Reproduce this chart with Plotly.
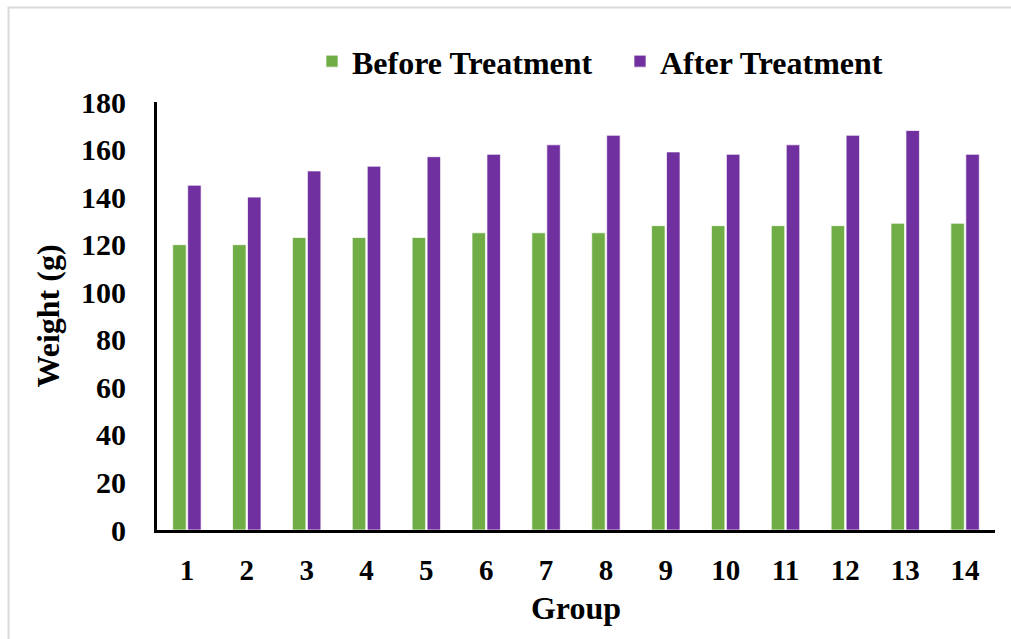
import plotly.graph_objects as go

# Group labels and body weights (g) before / after treatment
groups = [str(i) for i in range(1, 15)]
before_treatment = [120, 120, 123, 123, 123, 125, 125, 125, 128, 128, 128, 128, 129, 129]
after_treatment = [145, 140, 151, 153, 157, 158, 162, 166, 159, 158, 162, 166, 168, 158]
y_ticks = [0, 20, 40, 60, 80, 100, 120, 140, 160, 180]

FONT = "Liberation Serif"
GREEN = "#70AD47"
PURPLE = "#7030A0"

fig = go.Figure()
fig.add_trace(go.Bar(
    name="Before Treatment", x=groups, y=before_treatment,
    marker=dict(color=GREEN, line=dict(color="rgba(255,255,255,0.7)", width=1)),
))
fig.add_trace(go.Bar(
    name="After Treatment", x=groups, y=after_treatment,
    marker=dict(color=PURPLE, line=dict(color="rgba(255,255,255,0.7)", width=1)),
))

fig.update_layout(
    width=1011, height=639,
    margin=dict(l=157, r=16, t=102, b=109, autoexpand=False),
    paper_bgcolor="white", plot_bgcolor="white",
    barmode="group", bargap=0.5, bargroupgap=0.1,
    font=dict(family=FONT, color="black", size=30, weight="bold"),
    showlegend=True,
    legend=dict(
        orientation="h", x=(312 - 157) / 838, xanchor="left",
        y=1.095, yanchor="middle",
        font=dict(family=FONT, size=32, weight="bold"),
        itemwidth=30, entrywidth=263, traceorder="normal",
    ),
    xaxis=dict(
        type="category", showline=True, linecolor="black", linewidth=3,
        showgrid=False, ticks="", ticklabelstandoff=12,
        tickfont=dict(family=FONT, size=29, weight="bold"),
        title=dict(text="Group", standoff=12,
                   font=dict(family=FONT, size=32, weight="bold")),
    ),
    yaxis=dict(
        range=[0, 180], tickvals=y_ticks, showline=True, linecolor="black",
        linewidth=3, showgrid=False, zeroline=False, ticks="",
        ticklabelstandoff=22,
        tickfont=dict(family=FONT, size=30, weight="bold"),
        title=dict(text="Weight (g)", standoff=12,
                   font=dict(family=FONT, size=32, weight="bold")),
    ),
    shapes=[dict(
        type="rect", xref="paper", yref="paper",
        x0=(8.5 - 157) / 838, x1=1.1, y0=-0.4, y1=(530 - 7.5) / 428,
        line=dict(color="#d9d9d9", width=2), fillcolor="rgba(0,0,0,0)",
        layer="below",
    )],
)

fig.write_html("out.html")
